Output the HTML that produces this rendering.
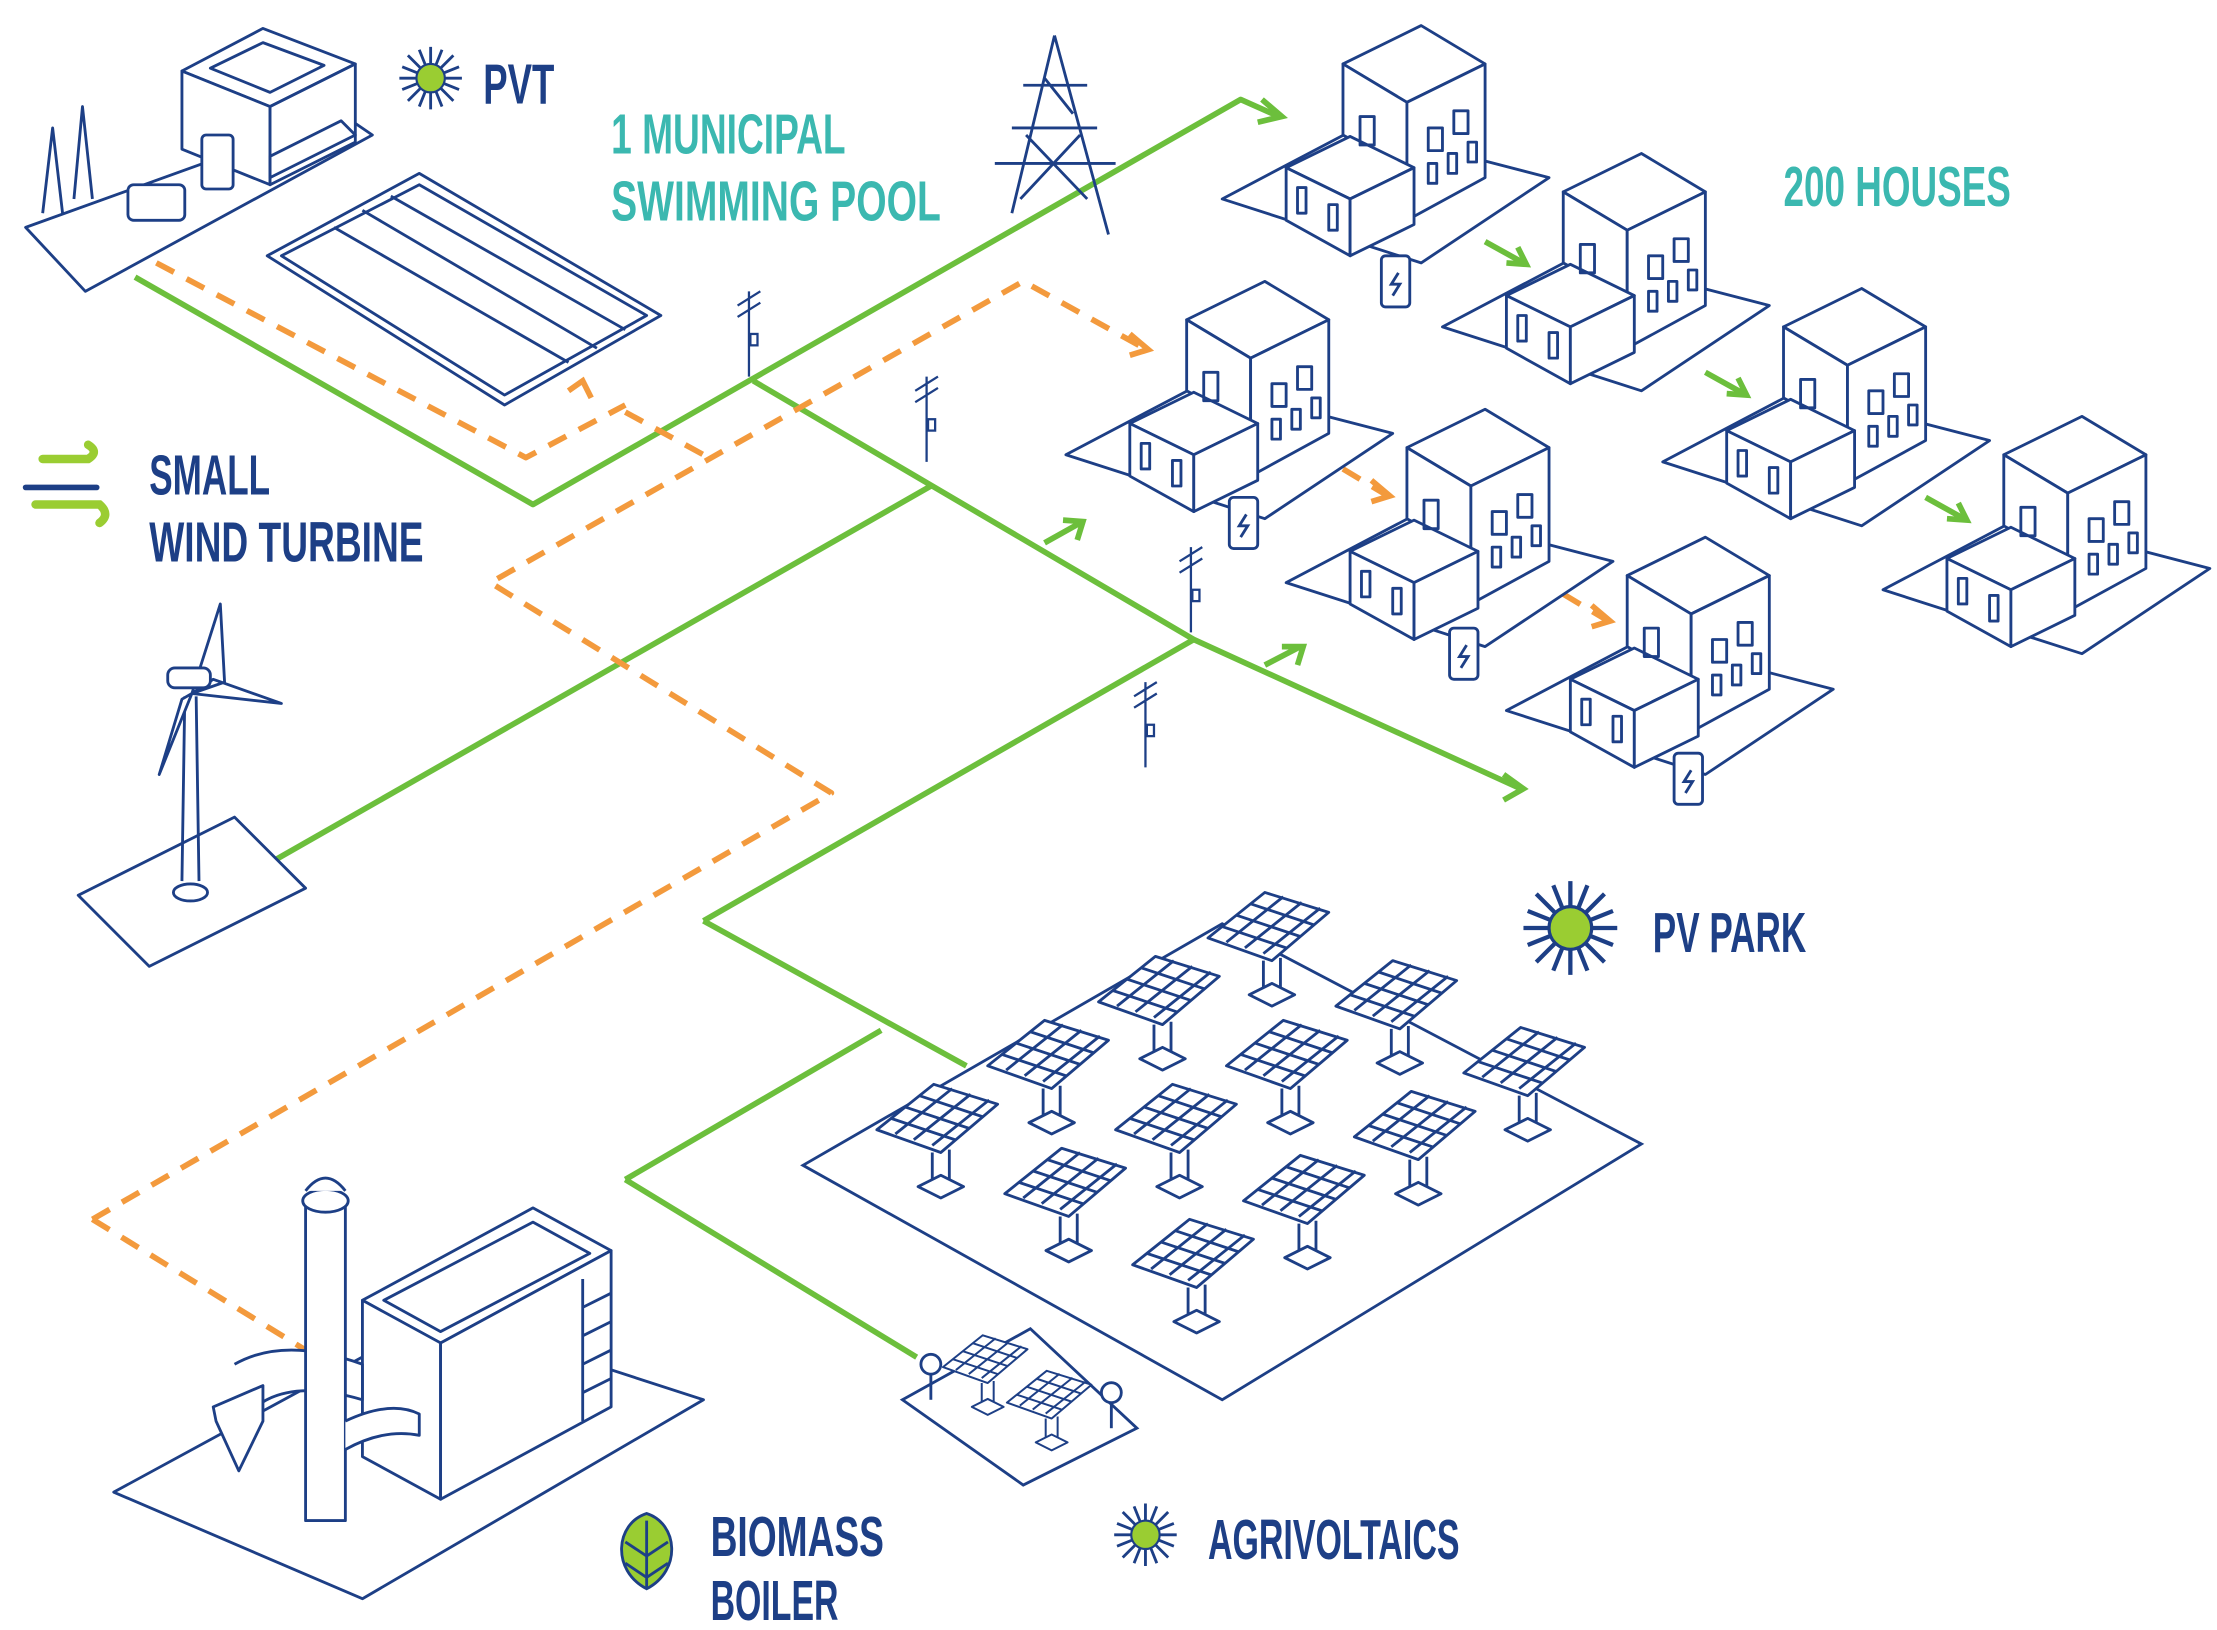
<!DOCTYPE html>
<html><head><meta charset="utf-8"><style>
html,body{margin:0;padding:0;background:#fff;}
svg{display:block;}
text{font-family:"Liberation Sans Narrow","Liberation Sans",sans-serif;font-weight:bold;}
</style></head><body>
<svg width="2217" height="1630" viewBox="0 0 1560 1147" xmlns="http://www.w3.org/2000/svg">
<defs>
<g id="house" fill="none" stroke="#1d3f86" stroke-width="2" stroke-linejoin="round">
  <polygon points="-115,0 -20,-50 115,-15 25,45" fill="#fff"/>
  <polygon points="-30,-95 25,-122 70,-95 15,-68" fill="#fff"/>
  <polygon points="-30,-95 15,-68 15,-20 -30,-45" fill="#fff"/>
  <polygon points="15,-68 70,-95 70,-15 15,15" fill="#fff"/>
  <polygon points="-70,-22 -25,-44 20,-22 -25,0" fill="#fff"/>
  <polygon points="-70,-22 -25,0 -25,40 -70,15" fill="#fff"/>
  <polygon points="-25,0 20,-22 20,18 -25,40" fill="#fff"/>
  <rect x="-62" y="-8" width="6" height="18"/>
  <rect x="-40" y="4" width="6" height="18"/>
  <rect x="-18" y="-58" width="10" height="20"/>
  <rect x="30" y="-50" width="10" height="16"/>
  <rect x="48" y="-62" width="10" height="16"/>
  <rect x="30" y="-25" width="6" height="14"/>
  <rect x="44" y="-32" width="6" height="14"/>
  <rect x="58" y="-40" width="6" height="14"/>
</g>
<g id="batt" fill="#fff" stroke="#1d3f86" stroke-width="2">
  <rect x="-10" y="-18" width="20" height="36" rx="3"/>
  <path d="M2,-6 L-3,2 L3,2 L-2,10" />
</g>
<g id="panel" fill="none" stroke="#1d3f86" stroke-width="2" stroke-linejoin="round">
  <polygon points="-45,10 -5,-22 40,-8 0,26" fill="#fff"/>
  <path d="M-35,2 L10,17 M-25,-6 L20,9 M-15,-14 L30,1 M-32,13 L8,-19 M-19,17 L21,-15 M-6,21 L34,-11"/>
  <path d="M-6,26 L-6,50 M6,24 L6,48"/>
  <polygon points="-16,50 0,42 16,50 0,58" fill="#fff"/>
</g>
<g id="pole" fill="none" stroke="#1d3f86" stroke-width="1.6">
  <path d="M0,-30 L0,30 M-8,-20 L8,-30 M-8,-12 L8,-22"/><rect x="1" y="0" width="5" height="8"/>
</g>
<g id="sun">
  <g stroke="#1d3f86" stroke-width="2"><path d="M-22,0 L22,0 M0,-22 L0,22 M-16,-16 L16,16 M-16,16 L16,-16 M-8,-20 L8,20 M8,-20 L-8,20 M-20,-8 L20,8 M-20,8 L20,-8"/></g>
  <circle r="10" fill="#9acd32" stroke="#1d3f86" stroke-width="1.5"/>
</g>
</defs>

<!-- green lines -->
<g fill="none" stroke="#6cbf3c" stroke-width="4" stroke-linejoin="round">
  <polyline points="95,195 375,355 873,70 900,82"/>
  <polyline points="530,268 840,450 1070,555"/>
  <polyline points="185,610 655,342"/>
  <polyline points="495,648 840,450"/>
  <polyline points="495,648 680,750"/>
  <polyline points="440,830 620,725"/>
  <polyline points="440,830 645,955"/>
  <polyline points="735,382 760,368"/><polyline points="890,468 915,455"/>
  <polyline points="1045,170 1072,185"/><polyline points="1200,262 1227,277"/><polyline points="1355,350 1382,365"/>
</g>
<g fill="none" stroke="#6cbf3c" stroke-width="4">
  <path d="M888,70 L902,82 L885,86"/><path d="M1058,545 L1072,555 L1058,563"/>
  <path d="M748,366 L762,367 L758,380"/><path d="M902,455 L917,455 L913,468"/>
  <path d="M1060,185 L1074,186 L1068,174"/><path d="M1215,277 L1229,278 L1223,266"/><path d="M1370,365 L1384,366 L1378,354"/>
</g>
<!-- orange dashed -->
<g fill="none" stroke="#f39a3d" stroke-width="4" stroke-dasharray="14,10" stroke-linejoin="round">
  <polyline points="110,185 370,322 440,285"/>
  <polyline points="440,290 495,320"/>
  <polyline points="65,858 585,558 345,410 720,198 805,245"/>
  <polyline points="65,858 215,950"/>
  <polyline points="945,330 975,348"/><polyline points="1100,418 1130,436"/>
</g>
<g fill="none" stroke="#f39a3d" stroke-width="4">
  <path d="M400,275 L410,268 L416,280"/><path d="M795,235 L808,246 L795,250"/>
  <path d="M965,338 L978,349 L965,353"/><path d="M1120,426 L1133,437 L1120,441"/>
</g>

<!-- PVT building -->
<g fill="#fff" stroke="#1d3f86" stroke-width="2" stroke-linejoin="round">
  <polygon points="18,160 240,80 262,95 60,205"/>
  <polygon points="128,50 185,20 250,45 190,75"/>
  <polygon points="128,50 190,75 190,130 128,105"/>
  <polygon points="190,75 250,45 250,100 190,130"/>
  <polygon points="148,48 185,30 228,46 190,65"/>
  <path d="M30,150 L37,90 L44,150 M52,140 L58,75 L65,140" fill="none"/>
  <rect x="90" y="130" width="40" height="25" rx="4"/>
  <rect x="142" y="95" width="22" height="38" rx="3"/>
  <polygon points="190,125 250,95 240,85 190,110" fill="none"/>
  <polygon points="188,180 295,122 465,222 355,285"/>
  <polygon points="198,180 295,130 455,222 355,278" fill="none"/>
  <path d="M235,160 L400,255 M255,148 L420,245 M275,138 L440,232" fill="none"/>
</g>
<!-- transmission tower -->
<g fill="none" stroke="#1d3f86" stroke-width="2">
  <path d="M742,25 L712,150 M742,25 L780,165 M720,60 L765,60 M712,90 L772,90 M700,115 L785,115 M722,95 L765,140 M760,95 L718,140 M735,55 L755,80"/>
</g>
<use href="#pole" x="527" y="235"/><use href="#pole" x="652" y="295"/>
<use href="#pole" x="838" y="415"/><use href="#pole" x="806" y="510"/>

<!-- houses -->
<use href="#house" x="975" y="140"/>
<use href="#house" x="1130" y="230"/>
<use href="#house" x="865" y="320"/>
<use href="#house" x="1020" y="410"/>
<use href="#house" x="1285" y="325"/>
<use href="#house" x="1440" y="415"/>
<use href="#house" x="1175" y="500"/>
<use href="#batt" x="982" y="198"/><use href="#batt" x="875" y="368"/>
<use href="#batt" x="1030" y="460"/><use href="#batt" x="1188" y="548"/>

<!-- wind turbine -->
<g fill="none" stroke="#1d3f86" stroke-width="2" stroke-linejoin="round">
  <polygon points="55,630 165,575 215,625 105,680" fill="#fff"/>
  <path d="M130,490 L128,620 M138,490 L140,620"/>
  <path d="M135,488 L155,425 L158,480 Z M135,488 L198,495 L150,478 Z M135,488 L112,545 L128,492 Z" fill="#fff"/>
  <rect x="118" y="470" width="30" height="14" rx="5" fill="#fff"/>
  <ellipse cx="134" cy="628" rx="12" ry="6" fill="#fff"/>
</g>

<!-- PV park -->
<polygon points="565,820 860,650 1155,805 860,985" fill="#fff" stroke="#1d3f86" stroke-width="2"/>
<use href="#panel" x="662" y="785"/><use href="#panel" x="740" y="740"/><use href="#panel" x="818" y="695"/><use href="#panel" x="895" y="650"/>
<use href="#panel" x="752" y="830"/><use href="#panel" x="830" y="785"/><use href="#panel" x="908" y="740"/><use href="#panel" x="985" y="698"/>
<use href="#panel" x="842" y="880"/><use href="#panel" x="920" y="835"/><use href="#panel" x="998" y="790"/><use href="#panel" x="1075" y="745"/>
<!-- agrivoltaics -->
<polygon points="635,985 725,935 800,1005 720,1045" fill="#fff" stroke="#1d3f86" stroke-width="2"/>
<use href="#panel" x="695" y="955" transform="translate(695 955) scale(0.7) translate(-695 -955)"/>
<use href="#panel" x="740" y="980" transform="translate(740 980) scale(0.7) translate(-740 -980)"/>
<g fill="#fff" stroke="#1d3f86" stroke-width="2"><circle cx="655" cy="960" r="7"/><path d="M655,967 L655,985" /><circle cx="782" cy="980" r="7"/><path d="M782,987 L782,1005"/></g>

<!-- biomass boiler -->
<g fill="#fff" stroke="#1d3f86" stroke-width="2" stroke-linejoin="round">
  <polygon points="80,1050 310,925 495,985 255,1125"/>
  <polygon points="255,915 375,850 430,880 310,945"/>
  <polygon points="255,915 310,945 310,1055 255,1025"/>
  <polygon points="310,945 430,880 430,990 310,1055"/>
  <polygon points="270,915 375,860 415,882 310,937" fill="none"/>
  <path d="M165,960 Q200,940 255,960 L255,985 Q205,970 180,990" />
  <polygon points="150,990 185,975 185,1000 168,1035 152,1000"/>
  <rect x="215" y="845" width="28" height="225"/>
  <ellipse cx="229" cy="845" rx="16" ry="8"/>
  <path d="M215,838 Q229,820 243,838"/>
  <path d="M243,1000 Q275,985 295,995 L295,1010 Q270,1005 243,1020"/>
  <path d="M410,900 L410,1000 M410,920 L430,910 M410,940 L430,930 M410,960 L430,950 M410,980 L430,970" fill="none"/>
</g>

<!-- labels -->
<use href="#sun" x="303" y="55"/>
<text x="340" y="73" font-size="40" fill="#1d3f86" textLength="50" lengthAdjust="spacingAndGlyphs">PVT</text>
<text x="430" y="108" font-size="40" fill="#3bb8b0" textLength="165" lengthAdjust="spacingAndGlyphs">1 MUNICIPAL</text>
<text x="430" y="155" font-size="40" fill="#3bb8b0" textLength="232" lengthAdjust="spacingAndGlyphs">SWIMMING  POOL</text>
<text x="1255" y="145" font-size="40" fill="#3bb8b0" textLength="160" lengthAdjust="spacingAndGlyphs">200 HOUSES</text>
<g fill="none" stroke-width="6" stroke-linecap="round">
  <path d="M30,323 L62,323 Q70,318 62,313" stroke="#9acd32"/>
  <path d="M18,343 L68,343" stroke="#1d3f86" stroke-width="4"/>
  <path d="M25,355 L70,355 Q78,362 70,368" stroke="#9acd32"/>
</g>
<text x="105" y="348" font-size="40" fill="#1d3f86" textLength="85" lengthAdjust="spacingAndGlyphs">SMALL</text>
<text x="105" y="395" font-size="40" fill="#1d3f86" textLength="193" lengthAdjust="spacingAndGlyphs">WIND TURBINE</text>
<use href="#sun" x="1105" y="653" transform="translate(1105 653) scale(1.5) translate(-1105 -653)"/>
<text x="1163" y="670" font-size="40" fill="#1d3f86" textLength="108" lengthAdjust="spacingAndGlyphs">PV PARK</text>
<g transform="translate(455,1090)">
  <path d="M0,-25 C-22,-18 -25,15 0,28 C25,15 22,-18 0,-25 Z" fill="#9acd32" stroke="#1d3f86" stroke-width="2"/>
  <path d="M0,-20 L0,28 M-15,-5 L0,5 L15,-5 M-15,10 L0,20 L15,10" stroke="#1d3f86" stroke-width="2" fill="none"/>
</g>
<text x="500" y="1095" font-size="40" fill="#1d3f86" textLength="122" lengthAdjust="spacingAndGlyphs">BIOMASS</text>
<text x="500" y="1140" font-size="40" fill="#1d3f86" textLength="90" lengthAdjust="spacingAndGlyphs">BOILER</text>
<use href="#sun" x="806" y="1080"/>
<text x="850" y="1097" font-size="40" fill="#1d3f86" textLength="177" lengthAdjust="spacingAndGlyphs">AGRIVOLTAICS</text>
</svg>
</body></html>
